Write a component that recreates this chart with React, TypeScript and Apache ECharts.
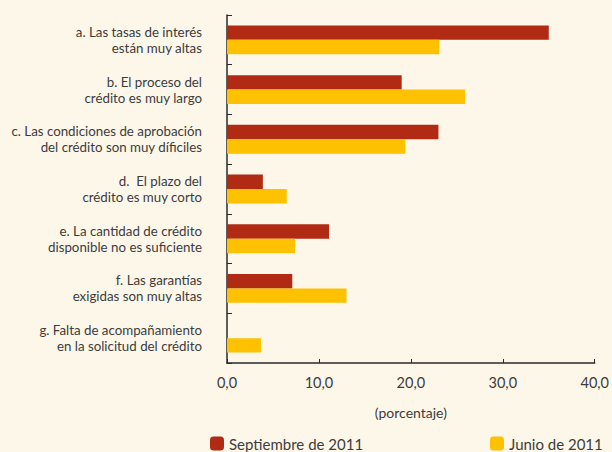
import React, { useEffect, useRef } from "react";
import * as echarts from "echarts";

const categories = [
  "a. Las tasas de interés\nestán muy altas",
  "b. El proceso del\ncrédito es muy largo",
  "c. Las condiciones de aprobación\ndel crédito son muy díficiles",
  "d.  El plazo del\ncrédito es muy corto",
  "e. La cantidad de crédito\ndisponible no es suficiente",
  "f. Las garantías\nexigidas son muy altas",
  "g. Falta de acompañamiento\nen la solicitud del crédito",
];
const septiembre2011 = [35.0, 19.0, 23.0, 3.9, 11.1, 7.1, 0];
const junio2011 = [23.1, 25.9, 19.4, 6.5, 7.4, 13.0, 3.7];
const xTicks = { min: 0, max: 40, interval: 10 };

const FONT = "Lato, 'Open Sans', sans-serif";
const TEXT = "#3c3c3c";

export default function App() {
  const ref = useRef<HTMLDivElement>(null);
  useEffect(() => {
    if (!ref.current) return;
    const chart = echarts.init(ref.current, null, { renderer: "svg" });
    chart.setOption({
      animation: false,
      backgroundColor: "#fdf7ea",
      textStyle: { fontFamily: FONT },
      grid: { left: 227, right: 15, top: 15, bottom: 89, containLabel: false },
      legend: [
        {
          data: ["Septiembre de 2011"],
          left: 205,
          top: 431,
          itemWidth: 14,
          itemHeight: 14,
          itemGap: 8,
          textStyle: { color: TEXT, fontSize: 15, fontFamily: FONT },
        },
        {
          data: ["Junio de 2011"],
          left: 485,
          top: 431,
          itemWidth: 14,
          itemHeight: 14,
          textStyle: { color: TEXT, fontSize: 15, fontFamily: FONT },
        },
      ],
      xAxis: {
        type: "value",
        min: xTicks.min,
        max: xTicks.max,
        interval: xTicks.interval,
        name: "(porcentaje)",
        nameLocation: "middle",
        nameGap: 42,
        nameTextStyle: { color: TEXT, fontSize: 14, fontFamily: FONT },
        axisLine: { show: true, lineStyle: { color: "#2a2a2a", width: 1.5 } },
        axisTick: { show: true, inside: true, length: 4, lineStyle: { color: "#2a2a2a" } },
        splitLine: { show: false },
        axisLabel: {
          color: TEXT,
          fontSize: 14.5,
          margin: 12,
          fontFamily: FONT,
          formatter: (v: number) => v.toFixed(1).replace(".", ","),
        },
      },
      yAxis: {
        type: "category",
        data: categories,
        inverse: true,
        axisLine: { show: true, lineStyle: { color: "#2a2a2a", width: 1.5 } },
        axisTick: { show: true, inside: true, length: 5, lineStyle: { color: "#2a2a2a" } },
        axisLabel: {
          color: TEXT,
          fontSize: 13.3,
          lineHeight: 16,
          margin: 25,
          align: "right",
          fontFamily: FONT,
        },
      },
      series: [
        {
          name: "Septiembre de 2011",
          type: "bar",
          data: septiembre2011,
          itemStyle: { color: "#b02a14" },
          barGap: "0%",
          barCategoryGap: "42%",
        },
        {
          name: "Junio de 2011",
          type: "bar",
          data: junio2011,
          itemStyle: { color: "#fdc100" },
          barGap: "0%",
          barCategoryGap: "42%",
        },
      ],
    });
    return () => chart.dispose();
  }, []);
  return (
    <div
      ref={ref}
      style={{ position: "fixed", left: 0, top: 0, width: 612, height: 452 }}
    />
  );
}
